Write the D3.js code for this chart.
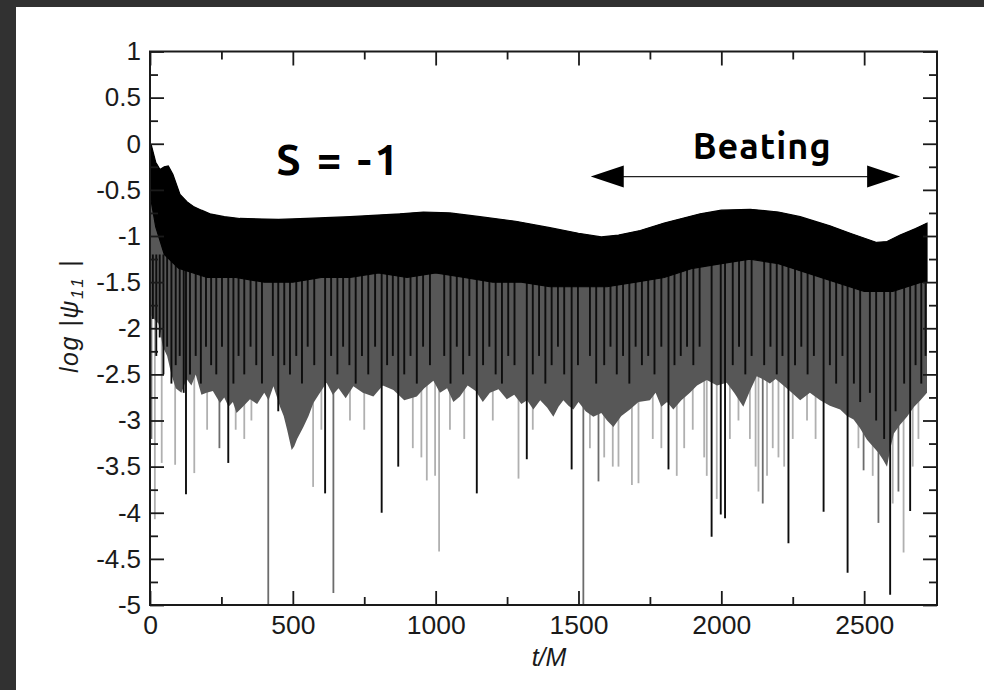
<!DOCTYPE html>
<html><head><meta charset="utf-8">
<script src="https://cdn.jsdelivr.net/npm/d3@7"></script>
<style>html,body{margin:0;padding:0;background:#313131;}svg{display:block;}</style>
</head><body>
<svg id="chart" width="984" height="690"></svg>
<script>
// ---- data ----
const xTicks = [0, 500, 1000, 1500, 2000, 2500];
const xMinor = [250, 750, 1250, 1750, 2250];
const yTicks = [1, 0.5, 0, -0.5, -1, -1.5, -2, -2.5, -3, -3.5, -4, -4.5, -5];
const yMinor = [0.75, 0.25, -0.25, -0.75, -1.25, -1.75, -2.25, -2.75, -3.25, -3.75, -4.25, -4.75];

// upper envelope of log|psi11|
const topEnv = [[0,0.0],[5,-0.02],[20,-0.2],[35,-0.28],[50,-0.25],[64,-0.24],[80,-0.33],[105,-0.55],[130,-0.63],[152,-0.68],[180,-0.72],[210,-0.76],[260,-0.79],[315,-0.81],[450,-0.82],[549,-0.81],[700,-0.79],[875,-0.76],[957,-0.74],[1050,-0.75],[1155,-0.79],[1280,-0.84],[1400,-0.91],[1500,-0.97],[1580,-1.01],[1640,-0.99],[1716,-0.94],[1800,-0.86],[1926,-0.76],[2000,-0.72],[2101,-0.71],[2200,-0.74],[2276,-0.79],[2380,-0.89],[2451,-0.97],[2544,-1.07],[2580,-1.06],[2626,-0.99],[2680,-0.92],[2720,-0.86]];
// lower edge of the dense black band
const blackBot = [[0,-0.55],[20,-0.9],[50,-1.2],[100,-1.35],[200,-1.45],[300,-1.45],[400,-1.5],[500,-1.5],[600,-1.45],[700,-1.45],[800,-1.4],[900,-1.45],[1000,-1.4],[1100,-1.45],[1200,-1.5],[1300,-1.5],[1400,-1.55],[1500,-1.55],[1600,-1.55],[1700,-1.5],[1800,-1.45],[1900,-1.35],[2000,-1.3],[2100,-1.25],[2200,-1.3],[2300,-1.4],[2400,-1.5],[2500,-1.6],[2600,-1.6],[2700,-1.5],[2720,-1.5]];
// lower edge of the dark-grey filled band
const grayBot = [[0,-1.85],[15,-1.9],[30,-1.95],[45,-2.2],[60,-2.3],[75,-2.5],[90,-2.65],[110,-2.7],[128,-2.55],[145,-2.62],[160,-2.5],[180,-2.72],[198,-2.7],[220,-2.68],[245,-2.81],[260,-2.75],[275,-2.85],[290,-2.8],[303,-2.92],[325,-2.85],[350,-2.77],[375,-2.82],[400,-2.7],[415,-2.78],[432,-2.63],[445,-2.75],[455,-2.85],[468,-2.95],[480,-3.1],[496,-3.32],[505,-3.28],[515,-3.2],[537,-3.07],[555,-2.95],[572,-2.81],[595,-2.7],[618,-2.59],[640,-2.72],[660,-2.65],[685,-2.76],[712,-2.63],[745,-2.7],[782,-2.74],[815,-2.62],[852,-2.67],[890,-2.78],[934,-2.74],[960,-2.65],[992,-2.57],[1015,-2.7],[1040,-2.65],[1062,-2.8],[1085,-2.74],[1112,-2.62],[1140,-2.68],[1165,-2.8],[1190,-2.7],[1220,-2.66],[1249,-2.77],[1275,-2.72],[1300,-2.82],[1320,-2.78],[1342,-2.88],[1366,-2.78],[1390,-2.86],[1412,-2.96],[1430,-2.85],[1447,-2.78],[1465,-2.84],[1482,-2.88],[1500,-2.8],[1525,-2.9],[1552,-2.96],[1580,-2.92],[1600,-3.0],[1622,-3.07],[1650,-2.95],[1680,-2.88],[1710,-2.8],[1750,-2.78],[1770,-2.7],[1790,-2.85],[1810,-2.8],[1832,-2.88],[1860,-2.78],[1890,-2.7],[1915,-2.62],[1949,-2.56],[1985,-2.62],[2019,-2.59],[2045,-2.7],[2077,-2.85],[2100,-2.68],[2124,-2.52],[2150,-2.56],[2170,-2.6],[2190,-2.55],[2206,-2.59],[2240,-2.68],[2276,-2.78],[2310,-2.7],[2346,-2.78],[2380,-2.84],[2416,-2.88],[2440,-2.95],[2463,-2.99],[2485,-3.08],[2510,-3.21],[2530,-3.28],[2550,-3.35],[2565,-3.42],[2580,-3.5],[2592,-3.3],[2604,-3.14],[2625,-3.05],[2650,-2.96],[2675,-2.85],[2697,-2.78],[2720,-2.7]];
// individual minima (t, depth)
const blackSpikes = [[10,-1.9],[22,-2.3],[34,-2.1],[47,-2.5],[60,-2.2],[75,-2.6],[90,-2.4],[104,-2.3],[118,-2.7],[126,-3.8],[140,-2.5],[160,-2.3],[178,-2.6],[196,-2.2],[214,-2.4],[232,-2.5],[252,-2.2],[274,-3.46],[292,-2.6],[310,-2.3],[330,-2.5],[352,-2.2],[372,-2.4],[392,-2.6],[430,-2.3],[449,-2.9],[470,-2.4],[490,-2.5],[512,-2.3],[532,-2.6],[552,-2.2],[575,-2.4],[613,-3.79],[634,-2.3],[656,-2.5],[676,-2.2],[698,-2.4],[720,-2.6],[742,-2.3],[764,-2.5],[788,-2.2],[811,-4.0],[830,-2.4],[850,-2.3],[869,-3.5],[890,-2.5],[912,-2.3],[934,-2.6],[956,-2.2],[980,-2.4],[1030,-2.3],[1052,-2.6],[1074,-2.2],[1096,-2.5],[1118,-2.3],[1144,-3.79],[1166,-2.4],[1188,-2.2],[1210,-2.5],[1232,-2.6],[1254,-2.3],[1276,-2.4],[1319,-3.42],[1340,-2.5],[1362,-2.3],[1384,-2.6],[1406,-2.4],[1428,-2.2],[1450,-2.5],[1476,-3.53],[1498,-2.4],[1540,-2.3],[1562,-2.6],[1590,-2.4],[1612,-2.2],[1634,-2.5],[1656,-2.3],[1678,-2.6],[1700,-2.2],[1722,-2.4],[1744,-2.3],[1766,-2.5],[1790,-2.2],[1815,-3.53],[1836,-2.4],[1858,-2.3],[1880,-2.2],[1902,-2.4],[1924,-2.2],[1966,-4.26],[1998,-4.02],[2013,-4.06],[2040,-2.4],[2062,-2.2],[2084,-2.5],[2106,-2.3],[2150,-2.4],[2172,-2.2],[2194,-2.5],[2214,-2.3],[2235,-4.33],[2258,-2.4],[2280,-2.2],[2302,-2.5],[2324,-2.3],[2358,-3.99],[2380,-2.4],[2402,-2.6],[2424,-2.3],[2442,-4.65],[2464,-2.6],[2486,-2.8],[2520,-2.7],[2542,-3.0],[2570,-3.2],[2591,-4.89],[2610,-2.9],[2640,-2.6],[2661,-3.98],[2680,-2.4],[2700,-2.6],[2715,-2.3]];
const midSpikes = [[5,-3.2],[243,-3.3],[414,-5],[642,-4.87],[1517,-5],[1570,-3.66],[2145,-3.9],[2498,-3.54],[2550,-4.11],[2620,-3.77]];
const lightSpikes = [[17,-4.07],[41,-3.46],[88,-3.48],[155,-3.57],[200,-3.1],[300,-3.1],[330,-3.2],[355,-3.0],[571,-3.72],[600,-3.1],[700,-3.0],[750,-3.1],[920,-3.3],[950,-3.4],[969,-3.65],[998,-3.6],[1012,-4.42],[1050,-3.1],[1100,-3.2],[1200,-3.0],[1290,-3.63],[1340,-3.1],[1540,-3.3],[1590,-3.4],[1620,-3.5],[1640,-3.5],[1687,-3.7],[1710,-3.68],[1760,-3.2],[1790,-3.3],[1844,-3.6],[1870,-3.3],[1900,-3.1],[1940,-3.4],[1949,-3.6],[1984,-3.85],[2030,-3.2],[2060,-3.0],[2100,-3.2],[2120,-3.5],[2130,-3.77],[2160,-3.6],[2180,-3.3],[2200,-3.4],[2220,-3.5],[2250,-3.2],[2300,-3.0],[2330,-3.2],[2480,-3.3],[2530,-3.6],[2600,-3.9],[2638,-4.43],[2670,-3.5],[2690,-3.2]];

// ---- drawing ----
const svg = d3.select("#chart");
const x = d3.scaleLinear([0, 2755], [150, 937]);
const y = d3.scaleLinear([-5, 1], [605, 51.5]);
const FONT = "'Liberation Sans', Arial, Helvetica, sans-serif";

svg.append("rect").attr("x",16).attr("y",7).attr("width",968).attr("height",683).attr("fill","#fff");

svg.append("defs").append("clipPath").attr("id","plot")
  .append("rect").attr("x",x(0)).attr("y",y(1)).attr("width",x(2755)-x(0)).attr("height",y(-5)-y(1));
const g = svg.append("g").attr("clip-path","url(#plot)");

const line = d3.line().x(d=>x(d[0])).y(d=>y(d[1]));
function band(top, bot){
  return line(top) + line(bot.slice().reverse()).replace(/^M/,"L") + "Z";
}

g.selectAll(".ls").data(lightSpikes).join("line")
  .attr("x1",d=>x(d[0])).attr("x2",d=>x(d[0])).attr("y1",y(-1.5)).attr("y2",d=>y(d[1]))
  .attr("stroke","#b0b0b0").attr("stroke-width",1.8);
g.selectAll(".ms").data(midSpikes).join("line")
  .attr("x1",d=>x(d[0])).attr("x2",d=>x(d[0])).attr("y1",y(-1.5)).attr("y2",d=>y(d[1]))
  .attr("stroke","#6c6c6c").attr("stroke-width",1.8);

g.append("path").attr("d",band(topEnv, grayBot)).attr("fill","#575757");

g.selectAll(".bs").data(blackSpikes).join("line")
  .attr("x1",d=>x(d[0])).attr("x2",d=>x(d[0])).attr("y1",y(-1.2)).attr("y2",d=>y(d[1]))
  .attr("stroke","#0d0d0d").attr("stroke-width",1.9);

g.append("path").attr("d",band(topEnv, blackBot)).attr("fill","#000")
  .attr("stroke","#000").attr("stroke-width",1.2);

// axes
const axG = svg.append("g").attr("font-family",FONT).attr("fill","#1a1a1a");
function styleAxis(sel){
  sel.select(".domain").remove();
  sel.selectAll(".tick line").attr("stroke","#1a1a1a").attr("stroke-width",1.8);
  sel.selectAll("text").attr("fill","#1a1a1a").attr("font-family",FONT);
}
const fmt = d => String(d);
axG.append("g").attr("transform",`translate(0,${y(-5)})`)
  .call(d3.axisBottom(x).tickValues(xTicks).tickSize(-14).tickPadding(10).tickFormat(fmt))
  .call(styleAxis).selectAll("text").attr("font-size",26.5);
axG.append("g").attr("transform",`translate(0,${y(-5)})`)
  .call(d3.axisBottom(x).tickValues(xMinor).tickSize(-8).tickFormat(""))
  .call(styleAxis);
axG.append("g").attr("transform",`translate(0,${y(1)})`)
  .call(d3.axisTop(x).tickValues(xTicks).tickSize(-14).tickFormat(""))
  .call(styleAxis);
axG.append("g").attr("transform",`translate(0,${y(1)})`)
  .call(d3.axisTop(x).tickValues(xMinor).tickSize(-8).tickFormat(""))
  .call(styleAxis);
axG.append("g").attr("transform",`translate(${x(0)},0)`)
  .call(d3.axisLeft(y).tickValues(yTicks).tickSize(-14).tickPadding(9).tickFormat(fmt))
  .call(styleAxis).selectAll("text").attr("font-size",26);
axG.append("g").attr("transform",`translate(${x(0)},0)`)
  .call(d3.axisLeft(y).tickValues(yMinor).tickSize(-8).tickFormat(""))
  .call(styleAxis);
axG.append("g").attr("transform",`translate(${x(2755)},0)`)
  .call(d3.axisRight(y).tickValues(yTicks).tickSize(-14).tickFormat(""))
  .call(styleAxis);
axG.append("g").attr("transform",`translate(${x(2755)},0)`)
  .call(d3.axisRight(y).tickValues(yMinor).tickSize(-8).tickFormat(""))
  .call(styleAxis);

svg.append("rect").attr("x",x(0)).attr("y",y(1)).attr("width",x(2755)-x(0)).attr("height",y(-5)-y(1))
  .attr("fill","none").attr("stroke","#1a1a1a").attr("stroke-width",2);

// axis titles
svg.append("text").attr("x",549).attr("y",666)
  .attr("text-anchor","middle").attr("font-family",FONT)
  .attr("font-style","italic").attr("font-size",25).attr("fill","#1a1a1a").text("t/M");
const yl = svg.append("text").attr("transform","translate(78,316) rotate(-90)")
  .attr("text-anchor","middle").attr("font-family",FONT)
  .attr("font-style","italic").attr("font-size",25).attr("letter-spacing",1.5)
  .attr("fill","#1a1a1a");
yl.append("tspan").text("log  |\u03c8");
yl.append("tspan").attr("font-size",17).attr("dy",5).attr("letter-spacing",3).text("11");
yl.append("tspan").attr("dy",-5).text("  |");

// annotations
svg.append("text").attr("x",339).attr("y",175).attr("text-anchor","middle")
  .attr("font-family","Ubuntu, 'Open Sans', sans-serif").attr("font-weight",700)
  .attr("letter-spacing",3)
  .attr("font-size",43).attr("fill","#000").text("S = -1");
svg.append("text").attr("x",x(2143)).attr("y",159).attr("text-anchor","middle")
  .attr("font-family","Ubuntu, 'Open Sans', sans-serif").attr("font-weight",700)
  .attr("letter-spacing",1)
  .attr("font-size",36).attr("fill","#000").text("Beating");
const ay = y(-0.356), tl = x(1543), tr = x(2626);
svg.append("line").attr("x1",tl+30).attr("x2",tr-30).attr("y1",ay).attr("y2",ay)
  .attr("stroke","#222").attr("stroke-width",1.3);
svg.append("path").attr("d",`M${tl},${ay}L${tl+33},${ay-11}L${tl+33},${ay+11}Z`).attr("fill","#000");
svg.append("path").attr("d",`M${tr},${ay}L${tr-33},${ay-11}L${tr-33},${ay+11}Z`).attr("fill","#000");
</script>
</body></html>
